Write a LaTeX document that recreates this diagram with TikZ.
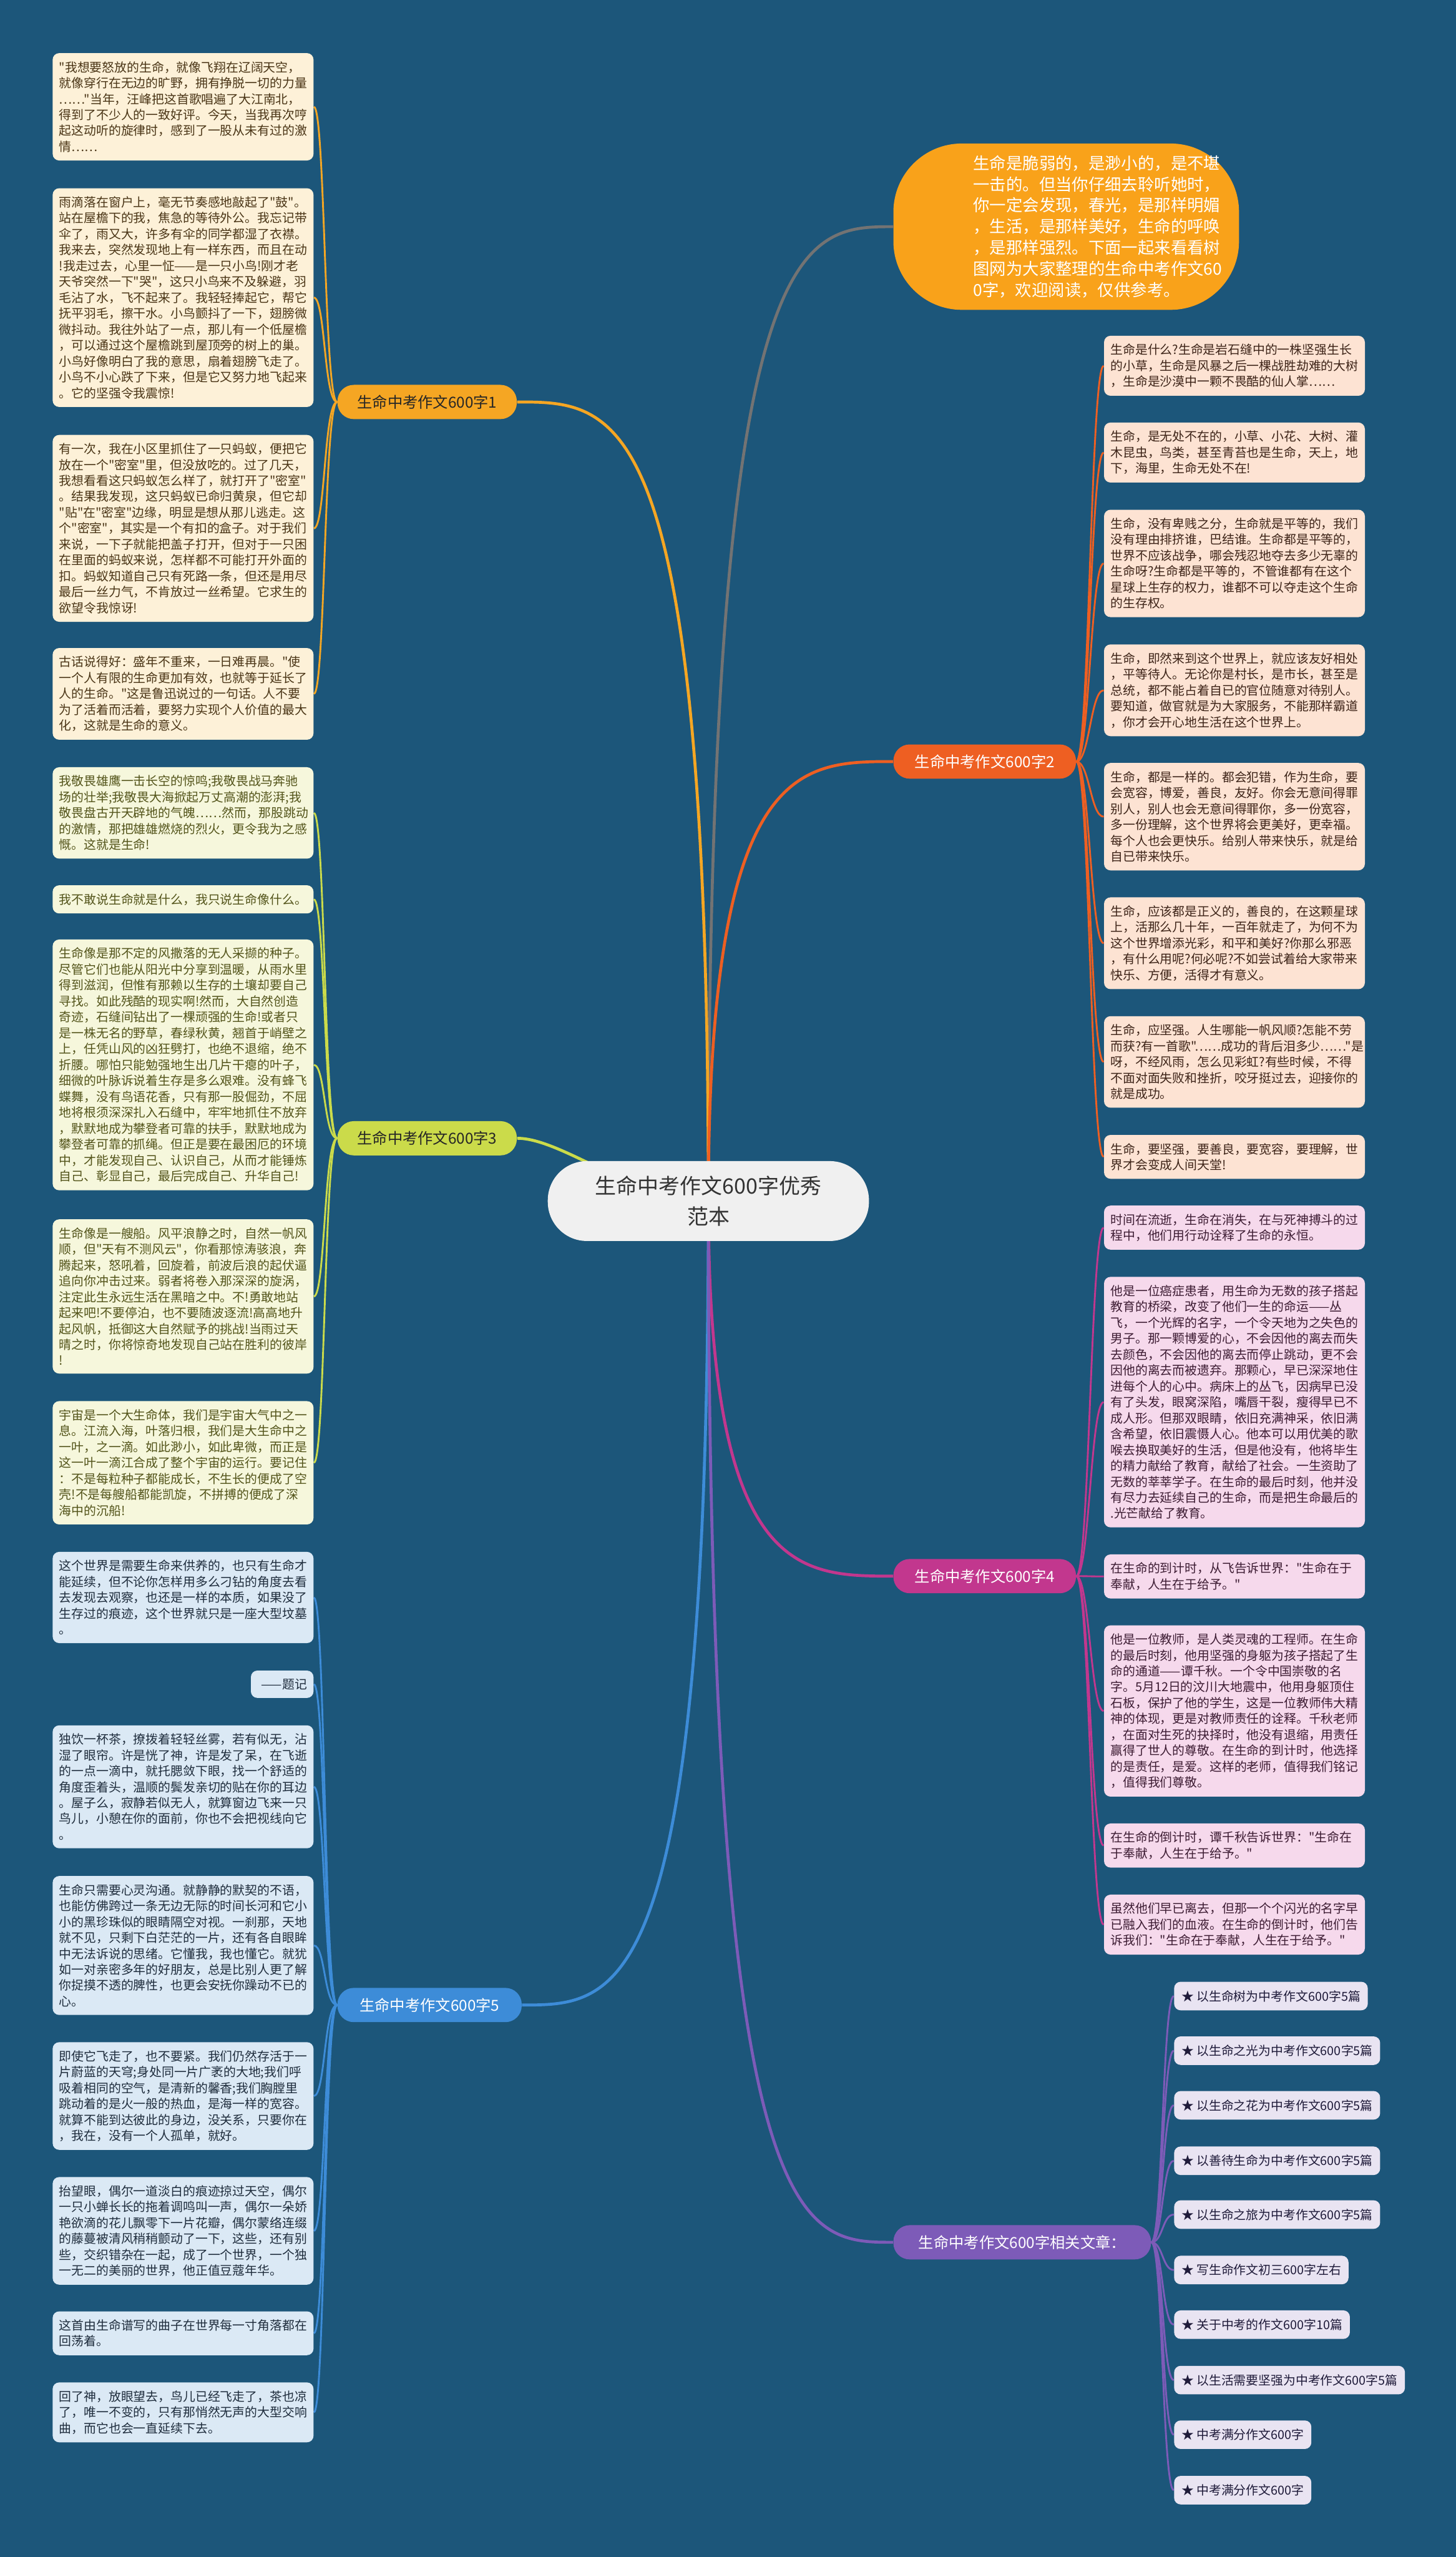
\documentclass[tikz,border=0pt]{standalone}
\usepackage{fontspec}
\newfontfamily\cjkfont{Noto Sans CJK SC}
\pgfdeclarelayer{bglayer}
\pgfsetlayers{bglayer,main}
\definecolor{bgc}{HTML}{1C567A}
\definecolor{cA}{HTML}{F5A623}\definecolor{fA}{HTML}{FDF1D8}\definecolor{tA}{HTML}{4A3516}
\definecolor{cB}{HTML}{CBDB4A}\definecolor{fB}{HTML}{F6F7DC}\definecolor{tB}{HTML}{53541A}
\definecolor{cC}{HTML}{3D8CD8}\definecolor{fC}{HTML}{DBE9F5}\definecolor{tC}{HTML}{1F2D3D}
\definecolor{cD}{HTML}{EE5F22}\definecolor{fD}{HTML}{FDE3D3}\definecolor{tD}{HTML}{3D2418}
\definecolor{cE}{HTML}{C2378E}\definecolor{fE}{HTML}{F6D9EC}\definecolor{tE}{HTML}{3D1C33}
\definecolor{cF}{HTML}{7D5BB8}\definecolor{fF}{HTML}{E9E4F2}\definecolor{tF}{HTML}{1F1B3A}
\definecolor{bubc}{HTML}{F9A21A}
\tikzset{
  leafbase/.style={rounded corners=4pt, inner xsep=4pt, inner ysep=5pt, text width=152pt, align=left, font=\cjkfont\fontsize{7.6}{9.75}\selectfont},
  lA/.style={leafbase, fill=fA, text=tA, anchor=east},
  lB/.style={leafbase, fill=fB, text=tB, anchor=east},
  lC/.style={leafbase, fill=fC, text=tC, anchor=east},
  rD/.style={leafbase, fill=fD, text=tD, anchor=west},
  rE/.style={leafbase, fill=fE, text=tE, anchor=west},
  relbox/.style={rounded corners=4pt, inner xsep=4.5pt, inner ysep=0pt, minimum height=17.5pt, anchor=west, fill=fF, text=tF, font=\cjkfont\fontsize{7.6}{9.75}\selectfont},
  branchbox/.style={rounded corners=10pt, minimum height=21pt, inner xsep=0pt, inner ysep=0pt, font=\cjkfont\fontsize{9.3}{11}\selectfont},
  conn/.style={line width=1.1pt},
  mainconn/.style={line width=1.8pt},
}
\begin{document}
\begin{tikzpicture}[x=1pt,y=-1pt]
\useasboundingbox (0,0) rectangle (893,1568);
% central
\node[rounded corners=24pt, fill=white!94!black, text=black!80, minimum width=197pt, minimum height=49pt, align=center, font=\cjkfont\fontsize{13}{18.5}\selectfont] (ctr) at (434.5,736.5) {生命中考作文600字优秀\\范本};
% bubble
\node[text=white, text width=153pt, inner sep=0pt, align=left, font=\cjkfont\fontsize{10.1}{13}\selectfont] (bub) at (673.5,139) {生命是脆弱的，是渺小的，是不堪\\一击的。但当你仔细去聆听她时，\\你一定会发现，春光，是那样明媚\\，生活，是那样美好，生命的呼唤\\，是那样强烈。下面一起来看看树\\图网为大家整理的生命中考作文60\\0字，欢迎阅读，仅供参考。};
\coordinate (bubw) at (548,139);
% branches
\node[branchbox, fill=cA, text=black!85, minimum width=110pt] (b1) at (262,246.5) {生命中考作文600字1};
\node[branchbox, fill=cB, text=black!85, minimum width=110pt] (b3) at (262,698) {生命中考作文600字3};
\node[branchbox, fill=cC, text=white, minimum width=113pt] (b5) at (263.5,1229.5) {生命中考作文600字5};
\node[branchbox, fill=cD, text=white, minimum width=112pt] (b2) at (604,467) {生命中考作文600字2};
\node[branchbox, fill=cE, text=white, minimum width=112pt] (b4) at (604,966.5) {生命中考作文600字4};
\node[branchbox, fill=cF, text=white, minimum width=158pt] (b6) at (627,1375) {生命中考作文600字相关文章：};
% left leaves, branch 1
\node[lA] (l1) at (192.5,65.5) {"我想要怒放的生命，就像飞翔在辽阔天空，\\就像穿行在无边的旷野，拥有挣脱一切的力量\\……"当年，汪峰把这首歌唱遍了大江南北，\\得到了不少人的一致好评。今天，当我再次哼\\起这动听的旋律时，感到了一股从未有过的激\\情……};
\node[lA] (l2) at (192.5,182.5) {雨滴落在窗户上，毫无节奏感地敲起了"鼓"。\\站在屋檐下的我，焦急的等待外公。我忘记带\\伞了，雨又大，许多有伞的同学都湿了衣襟。\\我来去，突然发现地上有一样东西，而且在动\\!我走过去，心里一怔——是一只小鸟!刚才老\\天爷突然一下"哭"，这只小鸟来不及躲避，羽\\毛沾了水，飞不起来了。我轻轻捧起它，帮它\\抚平羽毛，擦干水。小鸟颤抖了一下，翅膀微\\微抖动。我往外站了一点，那儿有一个低屋檐\\，可以通过这个屋檐跳到屋顶旁的树上的巢。\\小鸟好像明白了我的意思，扇着翅膀飞走了。\\小鸟不小心跌了下来，但是它又努力地飞起来\\。它的坚强令我震惊!};
\node[lA] (l3) at (192.5,324) {有一次，我在小区里抓住了一只蚂蚁，便把它\\放在一个"密室"里，但没放吃的。过了几天，\\我想看看这只蚂蚁怎么样了，就打开了"密室"\\。结果我发现，这只蚂蚁已命归黄泉，但它却\\"贴"在"密室"边缘，明显是想从那儿逃走。这\\个"密室"，其实是一个有扣的盒子。对于我们\\来说，一下子就能把盖子打开，但对于一只困\\在里面的蚂蚁来说，怎样都不可能打开外面的\\扣。蚂蚁知道自己只有死路一条，但还是用尽\\最后一丝力气，不肯放过一丝希望。它求生的\\欲望令我惊讶!};
\node[lA] (l4) at (192.5,425.5) {古话说得好：盛年不重来，一日难再晨。"使\\一个人有限的生命更加有效，也就等于延长了\\人的生命。"这是鲁迅说过的一句话。人不要\\为了活着而活着，要努力实现个人价值的最大\\化，这就是生命的意义。};
% branch 3
\node[lB] (l5) at (192.5,498.5) {我敬畏雄鹰一击长空的惊鸣;我敬畏战马奔驰\\场的壮举;我敬畏大海掀起万丈高潮的澎湃;我\\敬畏盘古开天辟地的气魄……然而，那股跳动\\的激情，那把雄雄燃烧的烈火，更令我为之感\\慨。这就是生命!};
\node[lB] (l6) at (192.5,551.5) {我不敢说生命就是什么，我只说生命像什么。};
\node[lB] (l7) at (192.5,653) {生命像是那不定的风撒落的无人采撷的种子。\\尽管它们也能从阳光中分享到温暖，从雨水里\\得到滋润，但惟有那赖以生存的土壤却要自己\\寻找。如此残酷的现实啊!然而，大自然创造\\奇迹，石缝间钻出了一棵顽强的生命!或者只\\是一株无名的野草，春绿秋黄，翘首于峭壁之\\上，任凭山风的凶狂劈打，也绝不退缩，绝不\\折腰。哪怕只能勉强地生出几片干瘪的叶子，\\细微的叶脉诉说着生存是多么艰难。没有蜂飞\\蝶舞，没有鸟语花香，只有那一股倔劲，不屈\\地将根须深深扎入石缝中，牢牢地抓住不放弃\\，默默地成为攀登者可靠的扶手，默默地成为\\攀登者可靠的抓绳。但正是要在最困厄的环境\\中，才能发现自己、认识自己，从而才能锤炼\\自己、彰显自己，最后完成自己、升华自己!};
\node[lB] (l8) at (192.5,795) {生命像是一艘船。风平浪静之时，自然一帆风\\顺，但"天有不测风云"，你看那惊涛骇浪，奔\\腾起来，怒吼着，回旋着，前波后浪的起伏逼\\追向你冲击过来。弱者将卷入那深深的旋涡，\\注定此生永远生活在黑暗之中。不!勇敢地站\\起来吧!不要停泊，也不要随波逐流!高高地升\\起风帆，抵御这大自然赋予的挑战!当雨过天\\晴之时，你将惊奇地发现自己站在胜利的彼岸\\!};
\node[lB] (l9) at (192.5,897) {宇宙是一个大生命体，我们是宇宙大气中之一\\息。江流入海，叶落归根，我们是大生命中之\\一叶，之一滴。如此渺小，如此卑微，而正是\\这一叶一滴江合成了整个宇宙的运行。要记住\\：不是每粒种子都能成长，不生长的便成了空\\壳!不是每艘船都能凯旋，不拼搏的便成了深\\海中的沉船!};
% branch 5
\node[lC] (l10) at (192.5,979.6) {这个世界是需要生命来供养的，也只有生命才\\能延续，但不论你怎样用多么刁钻的角度去看\\去发现去观察，也还是一样的本质，如果没了\\生存过的痕迹，这个世界就只是一座大型坟墓\\。};
\node[leafbase, fill=fC, text=tC, anchor=east, text width=30.4pt, align=right] (l11) at (192.5,1032.8) {——题记};
\node[lC] (l12) at (192.5,1095.7) {独饮一杯茶，撩拨着轻轻丝雾，若有似无，沾\\湿了眼帘。许是恍了神，许是发了呆，在飞逝\\的一点一滴中，就托腮敛下眼，找一个舒适的\\角度歪着头，温顺的鬓发亲切的贴在你的耳边\\。屋子么，寂静若似无人，就算窗边飞来一只\\鸟儿，小憩在你的面前，你也不会把视线向它\\。};
\node[lC] (l13) at (192.5,1193) {生命只需要心灵沟通。就静静的默契的不语，\\也能仿佛跨过一条无边无际的时间长河和它小\\小的黑珍珠似的眼睛隔空对视。一刹那，天地\\就不见，只剩下白茫茫的一片，还有各自眼眸\\中无法诉说的思绪。它懂我，我也懂它。就犹\\如一对亲密多年的好朋友，总是比别人更了解\\你捉摸不透的脾性，也更会安抚你躁动不已的\\心。};
\node[lC] (l14) at (192.5,1285.3) {即使它飞走了，也不要紧。我们仍然存活于一\\片蔚蓝的天穹;身处同一片广袤的大地;我们呼\\吸着相同的空气，是清新的馨香;我们胸膛里\\跳动着的是火一般的热血，是海一样的宽容。\\就算不能到达彼此的身边，没关系，只要你在\\，我在，没有一个人孤单，就好。};
\node[lC] (l15) at (192.5,1368) {抬望眼，偶尔一道淡白的痕迹掠过天空，偶尔\\一只小蝉长长的拖着调鸣叫一声，偶尔一朵娇\\艳欲滴的花儿飘零下一片花瓣，偶尔蒙络连缀\\的藤蔓被清风稍稍颤动了一下，这些，还有别\\些，交织错杂在一起，成了一个世界，一个独\\一无二的美丽的世界，他正值豆蔻年华。};
\node[lC] (l16) at (192.5,1430.8) {这首由生命谱写的曲子在世界每一寸角落都在\\回荡着。};
\node[lC] (l17) at (192.5,1479.3) {回了神，放眼望去，鸟儿已经飞走了，茶也凉\\了，唯一不变的，只有那悄然无声的大型交响\\曲，而它也会一直延续下去。};
% right leaves, branch 2
\node[rD] (r1) at (677,224.3) {生命是什么?生命是岩石缝中的一株坚强生长\\的小草，生命是风暴之后一棵战胜劫难的大树\\，生命是沙漠中一颗不畏酷的仙人掌……};
\node[rD] (r2) at (677,277.5) {生命，是无处不在的，小草、小花、大树、灌\\木昆虫，鸟类，甚至青苔也是生命，天上，地\\下，海里，生命无处不在!};
\node[rD] (r3) at (677,345.5) {生命，没有卑贱之分，生命就是平等的，我们\\没有理由排挤谁，巴结谁。生命都是平等的，\\世界不应该战争，哪会残忍地夺去多少无辜的\\生命呀?生命都是平等的，不管谁都有在这个\\星球上生存的权力，谁都不可以夺走这个生命\\的生存权。};
\node[rD] (r4) at (677,423.3) {生命，即然来到这个世界上，就应该友好相处\\，平等待人。无论你是村长，是市长，甚至是\\总统，都不能占着自已的官位随意对待别人。\\要知道，做官就是为大家服务，不能那样霸道\\，你才会开心地生活在这个世界上。};
\node[rD] (r5) at (677,500.8) {生命，都是一样的。都会犯错，作为生命，要\\会宽容，博爱，善良，友好。你会无意间得罪\\别人，别人也会无意间得罪你，多一份宽容，\\多一份理解，这个世界将会更美好，更幸福。\\每个人也会更快乐。给别人带来快乐，就是给\\自已带来快乐。};
\node[rD] (r6) at (677,578.4) {生命，应该都是正义的，善良的，在这颗星球\\上，活那么几十年，一百年就走了，为何不为\\这个世界增添光彩，和平和美好?你那么邪恶\\，有什么用呢?何必呢?不如尝试着给大家带来\\快乐、方便，活得才有意义。};
\node[rD] (r7) at (677,651.2) {生命，应坚强。人生哪能一帆风顺?怎能不劳\\而获?有一首歌"……成功的背后泪多少……"是\\呀，不经风雨，怎么见彩虹?有些时候，不得\\不面对面失败和挫折，咬牙挺过去，迎接你的\\就是成功。};
\node[rD] (r8) at (677,709.4) {生命，要坚强，要善良，要宽容，要理解，世\\界才会变成人间天堂!};
% branch 4
\node[rE] (r9) at (677,752.8) {时间在流逝，生命在消失，在与死神搏斗的过\\程中，他们用行动诠释了生命的永恒。};
\node[rE] (r10) at (677,859.8) {他是一位癌症患者，用生命为无数的孩子搭起\\教育的桥梁，改变了他们一生的命运——丛\\飞，一个光辉的名字，一个令天地为之失色的\\男子。那一颗博爱的心，不会因他的离去而失\\去颜色，不会因他的离去而停止跳动，更不会\\因他的离去而被遗弃。那颗心，早已深深地住\\进每个人的心中。病床上的丛飞，因病早已没\\有了头发，眼窝深陷，嘴唇干裂，瘦得早已不\\成人形。但那双眼睛，依旧充满神采，依旧满\\含希望，依旧震慑人心。他本可以用优美的歌\\喉去换取美好的生活，但是他没有，他将毕生\\的精力献给了教育，献给了社会。一生资助了\\无数的莘莘学子。在生命的最后时刻，他并没\\有尽力去延续自己的生命，而是把生命最后的\\.光芒献给了教育。};
\node[rE] (r11) at (677,966.7) {在生命的到计时，从飞告诉世界："生命在于\\奉献，人生在于给予。"};
\node[rE] (r12) at (677,1049.2) {他是一位教师，是人类灵魂的工程师。在生命\\的最后时刻，他用坚强的身躯为孩子搭起了生\\命的通道——谭千秋。一个令中国崇敬的名\\字。5月12日的汶川大地震中，他用身躯顶住\\石板，保护了他的学生，这是一位教师伟大精\\神的体现，更是对教师责任的诠释。千秋老师\\，在面对生死的抉择时，他没有退缩，用责任\\赢得了世人的尊敬。在生命的到计时，他选择\\的是责任，是爱。这样的老师，值得我们铭记\\，值得我们尊敬。};
\node[rE] (r13) at (677,1131.7) {在生命的倒计时，谭千秋告诉世界："生命在\\于奉献，人生在于给予。"};
\node[rE] (r14) at (677,1180.2) {虽然他们早已离去，但那一个个闪光的名字早\\已融入我们的血液。在生命的倒计时，他们告\\诉我们："生命在于奉献，人生在于给予。"};
% branch 6
\node[relbox] (s1) at (720,1224) {★ 以生命树为中考作文600字5篇};
\node[relbox] (s2) at (720,1257.5) {★ 以生命之光为中考作文600字5篇};
\node[relbox] (s3) at (720,1291) {★ 以生命之花为中考作文600字5篇};
\node[relbox] (s4) at (720,1325) {★ 以善待生命为中考作文600字5篇};
\node[relbox] (s5) at (720,1358) {★ 以生命之旅为中考作文600字5篇};
\node[relbox] (s6) at (720,1392) {★ 写生命作文初三600字左右};
\node[relbox] (s7) at (720,1425.5) {★ 关于中考的作文600字10篇};
\node[relbox] (s8) at (720,1459.5) {★ 以生活需要坚强为中考作文600字5篇};
\node[relbox] (s9) at (720,1493) {★ 中考满分作文600字};
\node[relbox] (s10) at (720,1527) {★ 中考满分作文600字};
% background and connectors
\begin{pgfonlayer}{bglayer}
\fill[bgc] (0,0) rectangle (893,1568);
\fill[bubc, rounded corners=42pt] (548,88) rectangle (760,190);
\draw[mainconn, black!55] (ctr.center) .. controls (434.5,140) and (490,139) .. (bubw);
\draw[mainconn, cA] (ctr.center) .. controls (434.5,246.5) and (380,246.5) .. (b1.east);
\draw[mainconn, cB] (ctr.center) .. controls (390,736.5) and (345,698) .. (b3.east);
\draw[mainconn, cC] (ctr.center) .. controls (434.5,1229.5) and (380,1229.5) .. (b5.east);
\draw[mainconn, cD] (ctr.center) .. controls (434.5,467) and (490,467) .. (b2.west);
\draw[mainconn, cE] (ctr.center) .. controls (434.5,966.5) and (490,966.5) .. (b4.west);
\draw[mainconn, cF] (ctr.center) .. controls (434.5,1375) and (490,1375) .. (b6.west);
\foreach \n in {l1,l2,l3,l4} \draw[conn, cA] (b1.west) .. controls +(-8,0) and +(7,0) .. (\n.east);
\foreach \n in {l5,l6,l7,l8,l9} \draw[conn, cB] (b3.west) .. controls +(-8,0) and +(7,0) .. (\n.east);
\foreach \n in {l10,l11,l12,l13,l14,l15,l16,l17} \draw[conn, cC] (b5.west) .. controls +(-8,0) and +(7,0) .. (\n.east);
\foreach \n in {r1,r2,r3,r4,r5,r6,r7,r8} \draw[conn, cD] (b2.east) .. controls +(8,0) and +(-8,0) .. (\n.west);
\foreach \n in {r9,r10,r11,r12,r13,r14} \draw[conn, cE] (b4.east) .. controls +(8,0) and +(-8,0) .. (\n.west);
\foreach \n in {s1,s2,s3,s4,s5,s6,s7,s8,s9,s10} \draw[conn, cF] (b6.east) .. controls +(7,0) and +(-7,0) .. (\n.west);
\end{pgfonlayer}
\end{tikzpicture}
\end{document}
